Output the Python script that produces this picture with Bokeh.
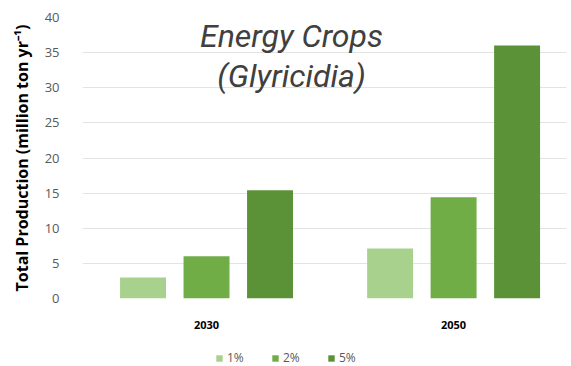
from bokeh.plotting import figure
from bokeh.layouts import column
from bokeh.models import Range1d, FixedTicker, Legend, LegendItem, Label, ColumnDataSource
from bokeh.embed import file_html
from bokeh.resources import INLINE

years = ["2030", "2050"]
scenarios = ["1%", "2%", "5%"]
production = {
    "1%": [3.0, 7.1],
    "2%": [6.0, 14.4],
    "5%": [15.4, 36.0],
}
colors = ["#a9d18e", "#70ad47", "#5b9237"]
y_ticks = [0, 5, 10, 15, 20, 25, 30, 35, 40]

p = figure(width=571, height=340, output_backend="svg", toolbar_location=None,
           x_range=Range1d(-0.502, 1.457), y_range=Range1d(0, 40),
           min_border_left=82, min_border_right=5, min_border_top=17, min_border_bottom=42)
p.outline_line_color = None
p.background_fill_color = "white"
p.border_fill_color = "white"

offset = 0.257
bar_w = 0.186
for k, (s, c) in enumerate(zip(scenarios, colors)):
    xs = [i + (k - 1) * offset for i in range(len(years))]
    src = ColumnDataSource(dict(x=xs, top=production[s]))
    p.vbar(x="x", top="top", width=bar_w, bottom=0, source=src,
           fill_color=c, line_color=None)

p.xaxis.ticker = FixedTicker(ticks=list(range(len(years))))
p.xaxis.major_label_overrides = {i: y for i, y in enumerate(years)}
p.xaxis.axis_line_color = None
p.xaxis.major_tick_line_color = None
p.xaxis.minor_tick_line_color = None
p.xaxis.major_label_text_font_size = "11px"
p.xaxis.major_label_text_font_style = "bold"
p.xaxis.major_label_text_font = "Open Sans"
p.xaxis.major_label_text_color = "#000000"
p.xaxis.major_label_standoff = 16
p.xgrid.grid_line_color = None

p.yaxis.ticker = FixedTicker(ticks=y_ticks)
p.yaxis.axis_line_color = None
p.yaxis.major_tick_line_color = None
p.yaxis.minor_tick_line_color = None
p.yaxis.major_label_text_font_size = "13px"
p.yaxis.major_label_text_font = "Open Sans"
p.yaxis.major_label_text_color = "#595959"
p.yaxis.major_label_standoff = 17
p.yaxis.axis_label = "Total Production (million ton yr\u207b\u00b9)"
p.yaxis.axis_label_text_font = "Open Sans"
p.yaxis.axis_label_text_font_size = "16px"
p.yaxis.axis_label_text_font_style = "bold"
p.yaxis.axis_label_text_color = "#000000"
p.yaxis.axis_label_standoff = 9
p.ygrid.grid_line_color = "#e3e3e3"
p.ygrid.grid_line_width = 1

for txt, yy in [("Energy Crops", 37.3), ("(Glyricidia)", 31.74)]:
    p.add_layout(Label(x=0.344, y=yy, text=txt, text_align="center", text_baseline="middle",
                       text_font="Roboto", text_font_style="italic", text_font_size="32px",
                       text_color="#404040"))

# Legend strip under the chart (zero-height swatch bars only feed the legend)
lg = figure(width=571, height=26, output_backend="svg", toolbar_location=None,
            x_axis_location=None, y_axis_location=None,
            x_range=Range1d(0, 1), y_range=Range1d(0, 1),
            min_border_left=0, min_border_right=0, min_border_top=0, min_border_bottom=0)
lg.outline_line_color = None
lg.grid.grid_line_color = None
items = []
for s, c in zip(scenarios, colors):
    r = lg.vbar(x=[0.5], top=[0], bottom=[0], width=0, fill_color=c, line_color=None)
    items.append(LegendItem(label=s, renderers=[r]))
legend = Legend(items=items, orientation="horizontal", location=(133, 0),
                label_text_font_size="12px", label_text_color="#595959",
                label_text_font="Open Sans",
                glyph_width=8, glyph_height=8, spacing=24, label_standoff=4,
                padding=0, margin=0, border_line_color=None,
                background_fill_alpha=0, label_height=14)
lg.add_layout(legend)

layout = column(p, lg, spacing=0)
open("out.html", "w").write(file_html(layout, INLINE))
